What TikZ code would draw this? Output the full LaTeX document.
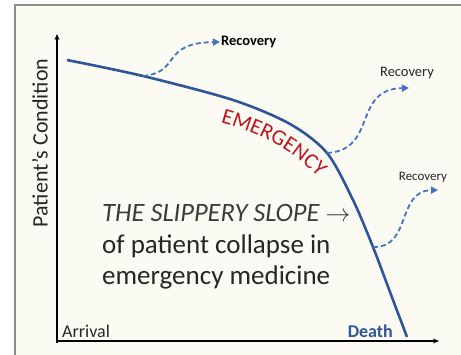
\documentclass[tikz,border=0pt]{standalone}
\usepackage{fontspec}
\setmainfont{Carlito}
\definecolor{slopeBlue}{HTML}{2E5597}
\definecolor{recBlue}{HTML}{4472C4}
\definecolor{emRed}{HTML}{C0151F}
\definecolor{paper}{HTML}{FCFBF3}
\definecolor{frameGray}{HTML}{8C8C8C}
\definecolor{inkGray}{HTML}{262626}
\usetikzlibrary{arrows.meta, positioning, decorations.text}

\begin{document}
\begin{tikzpicture}[
  x=1pt, y=-1pt,
  axis/.style={line width=1.4pt, -{Stealth[length=6pt, width=5pt]}},
  recpath/.style={recBlue, line width=1.8pt, dash pattern=on 5pt off 3pt,
    -{Triangle[length=7pt, width=7pt]}},
  reclabel/.style={inner sep=1pt, text=inkGray}]
  \useasboundingbox (0,0) rectangle (461,354);
  % Frame
  \draw[frameGray, line width=2pt, fill=paper] (15,5) rectangle (462,362);
  % Axes
  \coordinate (origin) at (57,341);
  \coordinate (ytop) at (57,34);
  \coordinate (xend) at (439,341);
  \draw[axis] (57,343) -- (ytop);
  \draw[axis] (56,341) -- (xend);
  \node[rotate=90, font=\fontsize{22}{22}\selectfont, text=inkGray] (cond) at (40,143) {Patient’s Condition};
  \node[anchor=base west, inner sep=0pt, font=\fontsize{18}{18}\selectfont, text=inkGray] (arrival) at (62,337) {Arrival};
  \node[anchor=base east, inner sep=0pt, font=\fontsize{18}{18}\selectfont\bfseries, text=slopeBlue] (death) at (393,337) {Death};
  % Slope curve
  \coordinate (r1) at (143,76);
  \coordinate (r2) at (327,153);
  \coordinate (r3) at (373,247);
  \draw[slopeBlue, line width=2.6pt, smooth]
    plot coordinates {(67,60) (143,76) (233,100) (290,124) (327,153) (353,200) (373,247) (393,300) (407,337)};
  \path[decorate, decoration={text along path, text align=center,
    text={|\fontsize{22}{22}\selectfont\color{emRed}|EMERGENCY}}]
    (215,121) .. controls (261,133) and (297,152) .. (322,182);
  % Recovery branches
  \node[reclabel, anchor=west, font=\fontsize{14.5}{14.5}\selectfont\bfseries, text=black] (rec1) at (220,42) {Recovery};
  \node[reclabel, font=\fontsize{14.5}{14.5}\selectfont] (rec2) at (407,73) {Recovery};
  \node[reclabel, font=\fontsize{13}{13}\selectfont] (rec3) at (423,177) {Recovery};
  \coordinate (tip2) at (409,88);
  \coordinate (tip3) at (438,190);
  \draw[recpath] (r1) .. controls (182,72) and (160,43) .. (rec1.west);
  \draw[recpath] (r2) .. controls (378,150) and (352,89) .. (tip2);
  \draw[recpath] (r3) .. controls (412,248) and (396,191) .. (tip3);
  % Caption text
  \node[anchor=base west, inner sep=0pt, font=\fontsize{26.5}{26.5}\selectfont\itshape, text=inkGray!90] (slope) at (102,221) {THE SLIPPERY SLOPE $\rightarrow$};
  \node[anchor=base west, inner sep=0pt, font=\fontsize{27}{27}\selectfont, text=inkGray] (collapse) at (102,253) {of patient collapse in};
  \node[anchor=base west, inner sep=0pt, font=\fontsize{27}{27}\selectfont, text=inkGray] (medicine) at (102,284) {emergency medicine};
\end{tikzpicture}
\end{document}
